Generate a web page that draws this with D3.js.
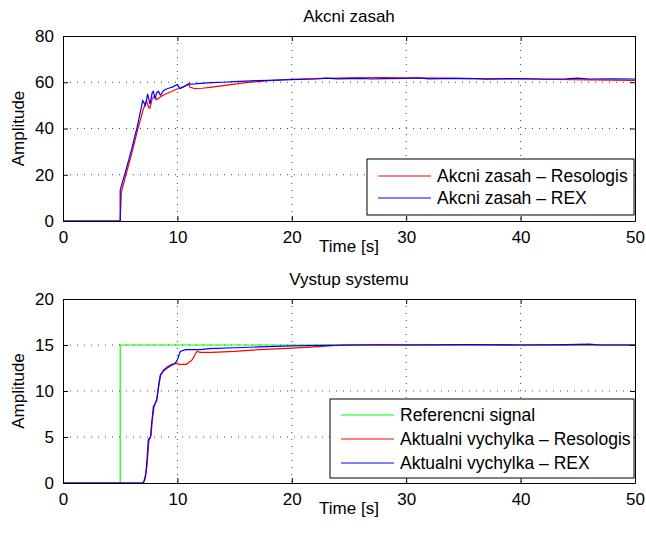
<!DOCTYPE html>
<html>
<head>
<meta charset="utf-8">
<script src="https://cdn.jsdelivr.net/npm/d3@7"></script>
<style>
body{margin:0;background:#fff;}
svg{display:block;font-family:"Liberation Sans",Arial,sans-serif;}
</style>
</head>
<body>
<svg></svg>
<script>
var width = 646;
var height = 534;
//tick values of both plots
var xTicks = [0,10,20,30,40,50];
var yTicksTop = [0,20,40,60,80];
var yTicksBottom = [0,5,10,15,20];
//action signal - [time, value]
var akcniResologis = [[0,0],[5,0],[5.1,12.5],[5.5,20],[6,29],[6.5,39],[7.0,48],[7.3,52],[7.5,49],[7.6,48.8],[7.8,53],[8.0,54],[8.2,52.5],[8.35,53],[8.6,54],[9.0,55],[9.5,56],[10.0,57.2],[10.3,57.3],[10.7,58.5],[11.0,59.5],[11.1,57.8],[11.5,57.3],[12.2,57.4],[13,57.9],[14,58.5],[15,59.2],[16,59.8],[17,60.3],[18,60.7],[20,61.3],[22,61.6],[25,61.9],[28,62],[30,61.9],[33,61.8],[36,61.6],[40,61.4],[43,61.2],[46,61],[50,60.8]];
var akcniREX = [[0,0],[5,0],[5,13.4],[5.5,22],[6,31],[6.5,41],[6.97,52],[7.2,50],[7.4,55],[7.6,50.5],[7.8,55.5],[7.9,56],[8.05,53],[8.2,55.5],[8.35,56],[8.5,54.5],[8.6,55],[8.8,56.5],[9.0,57],[9.3,57.5],[9.6,58],[9.9,58.8],[10.0,59],[10.2,57.4],[10.6,58.2],[11.0,59.2],[11.5,59.3],[12,59.5],[13,59.8],[14,60],[15,60.3],[16,60.5],[17,60.7],[18,60.8],[20,61.1],[22,61.4],[23,61.8],[24,61.5],[26,61.7],[27,61.4],[28,61.6],[30,61.7],[31,61.9],[32,61.5],[34,61.7],[36,61.6],[37,61.3],[38,61.5],[40,61.6],[42,61.4],[44,61.5],[45,61.8],[46,61.4],[48,61.5],[50,61.4]];
//system output - [time, value]
var referencniSignal = [[0,0],[5,0],[5,15],[50,15]];
var vychylkaResologis = [[0,0],[7.05,0],[7.2,0.5],[7.35,2],[7.5,4.5],[7.7,5.2],[7.8,6.8],[7.95,8.2],[8.2,9.2],[8.4,10.8],[8.55,11.8],[8.8,12.3],[9.1,12.6],[9.5,12.9],[9.8,13.0],[10.2,12.9],[10.8,12.9],[11.3,13.4],[11.7,14.3],[12,14.2],[13,14.2],[15,14.3],[17.2,14.5],[20,14.65],[22,14.8],[24.5,15.0],[28,15.05],[32,15.0],[36,15.05],[40,15.0],[45,15.0],[50,15.0]];
var vychylkaREX = [[0,0],[6.97,0],[7.1,0.3],[7.25,1.1],[7.4,3.5],[7.45,4.7],[7.65,5.0],[7.75,6.5],[7.9,8.3],[8.2,9.0],[8.35,10.5],[8.5,11.7],[8.8,12.2],[9.1,12.5],[9.5,12.8],[9.8,13.0],[10.0,13.4],[10.25,14.3],[10.7,14.5],[12,14.5],[12.8,14.6],[15,14.7],[17.2,14.8],[20,14.9],[23,14.95],[26,15.0],[30,15.0],[35,15.05],[40,15.0],[44,15.05],[46,15.1],[47,15.0],[50,15.0]];

var svg = d3.select("svg")
    .attr("width",width)
    .attr("height",height);
svg.append("rect").attr("width",width).attr("height",height).attr("fill","#fff");

//draw one axes panel
function drawPanel(opt){
    var left = 63, right = 635;
    var xScale = d3.scaleLinear().domain([0,50]).range([left,right]);
    var yScale = d3.scaleLinear().domain(opt.yDomain).range([opt.bottom,opt.top]);
    var g = svg.append("g");
    //white plot area
    g.append("rect")
        .attr("x",left).attr("y",opt.top)
        .attr("width",right-left).attr("height",opt.bottom-opt.top)
        .attr("fill","#fff");
    //dotted grid
    g.selectAll(".vgrid").data(xTicks.slice(1,-1)).enter()
        .append("line")
            .attr("x1",d => xScale(d)).attr("x2",d => xScale(d))
            .attr("y1",opt.top).attr("y2",opt.bottom)
            .attr("stroke","#444").attr("stroke-dasharray","1,6");
    g.selectAll(".hgrid").data(opt.yTicks.slice(1,-1)).enter()
        .append("line")
            .attr("x1",left).attr("x2",right)
            .attr("y1",d => yScale(d)).attr("y2",d => yScale(d))
            .attr("stroke","#444").attr("stroke-dasharray","1,6");
    //clip for the lines
    svg.append("clipPath").attr("id","clip"+opt.id)
        .append("rect")
            .attr("x",left).attr("y",opt.top)
            .attr("width",right-left).attr("height",opt.bottom-opt.top);
    var line = d3.line().x(d => xScale(d[0])).y(d => yScale(d[1]));
    opt.series.forEach(s => {
        g.append("path")
            .datum(s.data)
            .attr("clip-path","url(#clip"+opt.id+")")
            .attr("fill","none")
            .attr("stroke",s.color)
            .attr("stroke-width",1.2)
            .attr("d",line);
    });
    //axes with inward ticks
    var xAxis = d3.axisBottom(xScale).tickValues(xTicks).tickSize(-5).tickSizeOuter(0).tickPadding(10);
    var yAxis = d3.axisLeft(yScale).tickValues(opt.yTicks).tickSize(-5).tickSizeOuter(0).tickPadding(9);
    var gx = g.append("g").attr("transform","translate(0,"+opt.bottom+")").call(xAxis);
    var gy = g.append("g").attr("transform","translate("+left+",0)").call(yAxis);
    var gxt = g.append("g").attr("transform","translate(0,"+opt.top+")")
        .call(d3.axisTop(xScale).tickValues(xTicks).tickSize(-5).tickSizeOuter(0).tickFormat(""));
    var gyr = g.append("g").attr("transform","translate("+right+",0)")
        .call(d3.axisRight(yScale).tickValues(opt.yTicks).tickSize(-5).tickSizeOuter(0).tickFormat(""));
    [gx,gy,gxt,gyr].forEach(a => {
        a.select(".domain").attr("stroke","#000");
        a.selectAll(".tick line").attr("stroke","#000");
        a.selectAll(".tick text").attr("fill","#000").style("font-size","17px");
    });
    //titles
    g.append("text")
        .attr("x",(left+right)/2).attr("y",opt.top-14)
        .style("text-anchor","middle").style("font-size","17px")
        .text(opt.title);
    g.append("text")
        .attr("x",(left+right)/2).attr("y",opt.bottom+31)
        .style("text-anchor","middle").style("font-size","17px")
        .text("Time [s]");
    g.append("text")
        .attr("transform","translate(24,"+((opt.top+opt.bottom)/2)+") rotate(-90)")
        .style("text-anchor","middle").style("font-size","17px")
        .text("Amplitude");
    //legend
    var lg = g.append("g");
    lg.append("rect")
        .attr("x",opt.legend.x).attr("y",opt.legend.y)
        .attr("width",opt.legend.w).attr("height",opt.legend.h)
        .attr("fill","#fff").attr("stroke","#000");
    opt.series.forEach((s,i) => {
        var yy = opt.legend.y + opt.legend.first + i*opt.legend.step;
        lg.append("line")
            .attr("x1",opt.legend.x+11).attr("x2",opt.legend.x+64)
            .attr("y1",yy).attr("y2",yy)
            .attr("stroke",s.color).attr("stroke-width",1.2);
        lg.append("text")
            .attr("x",opt.legend.x+70).attr("y",yy+6)
            .style("font-size","17.5px")
            .text(s.name);
    });
}

drawPanel({
    id:"top", top:36, bottom:221, yDomain:[0,80], yTicks:yTicksTop,
    title:"Akcni zasah",
    legend:{x:367, y:159, w:267, h:56, first:17, step:22},
    series:[
        {name:"Akcni zasah \u2013 Resologis", color:"#ff0000", data:akcniResologis},
        {name:"Akcni zasah \u2013 REX", color:"#0000ff", data:akcniREX}
    ]
});
drawPanel({
    id:"bottom", top:299, bottom:483, yDomain:[0,20], yTicks:yTicksBottom,
    title:"Vystup systemu",
    legend:{x:330, y:399, w:304, h:79, first:16, step:24},
    series:[
        {name:"Referencni signal", color:"#00ff00", data:referencniSignal},
        {name:"Aktualni vychylka \u2013 Resologis", color:"#ff0000", data:vychylkaResologis},
        {name:"Aktualni vychylka \u2013 REX", color:"#0000ff", data:vychylkaREX}
    ]
});
</script>
</body>
</html>
